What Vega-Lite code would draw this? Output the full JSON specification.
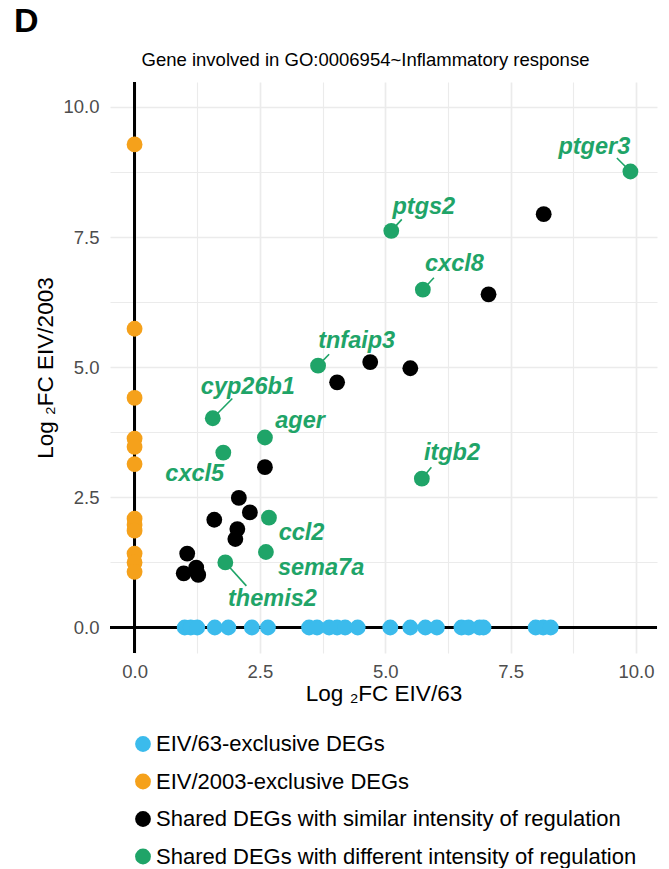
{
  "$schema": "https://vega.github.io/schema/vega-lite/v6.json",
  "autosize": {"type": "pad"},
  "padding": {"left": 13, "top": 5, "right": 0, "bottom": 0},
  "background": "white",
  "title": {"text": "D", "anchor": "start", "frame": "bounds", "font": "Liberation Sans", "fontSize": 34, "fontWeight": "bold", "color": "#000000", "dx": -21, "offset": 12},
  "datasets": {
    "genes": [
      {"gene": "", "group": "EIV/63-exclusive DEGs", "x": 1.0, "y": 0},
      {"gene": "", "group": "EIV/63-exclusive DEGs", "x": 1.12, "y": 0},
      {"gene": "", "group": "EIV/63-exclusive DEGs", "x": 1.25, "y": 0},
      {"gene": "", "group": "EIV/63-exclusive DEGs", "x": 1.6, "y": 0},
      {"gene": "", "group": "EIV/63-exclusive DEGs", "x": 1.87, "y": 0},
      {"gene": "", "group": "EIV/63-exclusive DEGs", "x": 2.34, "y": 0},
      {"gene": "", "group": "EIV/63-exclusive DEGs", "x": 2.66, "y": 0},
      {"gene": "", "group": "EIV/63-exclusive DEGs", "x": 3.48, "y": 0},
      {"gene": "", "group": "EIV/63-exclusive DEGs", "x": 3.64, "y": 0},
      {"gene": "", "group": "EIV/63-exclusive DEGs", "x": 3.88, "y": 0},
      {"gene": "", "group": "EIV/63-exclusive DEGs", "x": 4.04, "y": 0},
      {"gene": "", "group": "EIV/63-exclusive DEGs", "x": 4.2, "y": 0},
      {"gene": "", "group": "EIV/63-exclusive DEGs", "x": 4.45, "y": 0},
      {"gene": "", "group": "EIV/63-exclusive DEGs", "x": 5.1, "y": 0},
      {"gene": "", "group": "EIV/63-exclusive DEGs", "x": 5.5, "y": 0},
      {"gene": "", "group": "EIV/63-exclusive DEGs", "x": 5.8, "y": 0},
      {"gene": "", "group": "EIV/63-exclusive DEGs", "x": 6.03, "y": 0},
      {"gene": "", "group": "EIV/63-exclusive DEGs", "x": 6.52, "y": 0},
      {"gene": "", "group": "EIV/63-exclusive DEGs", "x": 6.66, "y": 0},
      {"gene": "", "group": "EIV/63-exclusive DEGs", "x": 6.88, "y": 0},
      {"gene": "", "group": "EIV/63-exclusive DEGs", "x": 6.96, "y": 0},
      {"gene": "", "group": "EIV/63-exclusive DEGs", "x": 8.0, "y": 0},
      {"gene": "", "group": "EIV/63-exclusive DEGs", "x": 8.15, "y": 0},
      {"gene": "", "group": "EIV/63-exclusive DEGs", "x": 8.3, "y": 0},
      {"gene": "", "group": "EIV/2003-exclusive DEGs", "x": 0, "y": 9.28},
      {"gene": "", "group": "EIV/2003-exclusive DEGs", "x": 0, "y": 5.74},
      {"gene": "", "group": "EIV/2003-exclusive DEGs", "x": 0, "y": 4.41},
      {"gene": "", "group": "EIV/2003-exclusive DEGs", "x": 0, "y": 3.63},
      {"gene": "", "group": "EIV/2003-exclusive DEGs", "x": 0, "y": 3.47},
      {"gene": "", "group": "EIV/2003-exclusive DEGs", "x": 0, "y": 3.14},
      {"gene": "", "group": "EIV/2003-exclusive DEGs", "x": 0, "y": 2.09},
      {"gene": "", "group": "EIV/2003-exclusive DEGs", "x": 0, "y": 1.97},
      {"gene": "", "group": "EIV/2003-exclusive DEGs", "x": 0, "y": 1.86},
      {"gene": "", "group": "EIV/2003-exclusive DEGs", "x": 0, "y": 1.42},
      {"gene": "", "group": "EIV/2003-exclusive DEGs", "x": 0, "y": 1.25},
      {"gene": "", "group": "EIV/2003-exclusive DEGs", "x": 0, "y": 1.07},
      {"gene": "", "group": "Shared DEGs with similar intensity of regulation", "x": 8.16, "y": 7.94},
      {"gene": "", "group": "Shared DEGs with similar intensity of regulation", "x": 7.06, "y": 6.4},
      {"gene": "", "group": "Shared DEGs with similar intensity of regulation", "x": 4.7, "y": 5.1},
      {"gene": "", "group": "Shared DEGs with similar intensity of regulation", "x": 5.5, "y": 4.98},
      {"gene": "", "group": "Shared DEGs with similar intensity of regulation", "x": 4.04, "y": 4.71},
      {"gene": "", "group": "Shared DEGs with similar intensity of regulation", "x": 2.6, "y": 3.08},
      {"gene": "", "group": "Shared DEGs with similar intensity of regulation", "x": 2.08, "y": 2.49},
      {"gene": "", "group": "Shared DEGs with similar intensity of regulation", "x": 2.3, "y": 2.21},
      {"gene": "", "group": "Shared DEGs with similar intensity of regulation", "x": 1.59, "y": 2.07},
      {"gene": "", "group": "Shared DEGs with similar intensity of regulation", "x": 2.05, "y": 1.89},
      {"gene": "", "group": "Shared DEGs with similar intensity of regulation", "x": 2.01, "y": 1.7},
      {"gene": "", "group": "Shared DEGs with similar intensity of regulation", "x": 1.05, "y": 1.42},
      {"gene": "", "group": "Shared DEGs with similar intensity of regulation", "x": 0.98, "y": 1.04},
      {"gene": "", "group": "Shared DEGs with similar intensity of regulation", "x": 1.23, "y": 1.15},
      {"gene": "", "group": "Shared DEGs with similar intensity of regulation", "x": 1.27, "y": 1.01},
      {"gene": "ptger3", "group": "Shared DEGs with different intensity of regulation", "x": 9.89, "y": 8.76, "lx": 9.17, "ly": 9.23, "sx": 9.62, "sy": 9.02},
      {"gene": "ptgs2", "group": "Shared DEGs with different intensity of regulation", "x": 5.12, "y": 7.62, "lx": 5.77, "ly": 8.08, "sx": 5.33, "sy": 7.84},
      {"gene": "cxcl8", "group": "Shared DEGs with different intensity of regulation", "x": 5.75, "y": 6.49, "lx": 6.38, "ly": 6.99, "sx": 5.97, "sy": 6.72},
      {"gene": "tnfaip3", "group": "Shared DEGs with different intensity of regulation", "x": 3.66, "y": 5.03, "lx": 4.43, "ly": 5.51, "sx": 3.88, "sy": 5.25},
      {"gene": "cyp26b1", "group": "Shared DEGs with different intensity of regulation", "x": 1.56, "y": 4.02, "lx": 2.26, "ly": 4.62, "sx": 1.95, "sy": 4.4},
      {"gene": "ager", "group": "Shared DEGs with different intensity of regulation", "x": 2.6, "y": 3.65, "lx": 3.3, "ly": 3.97},
      {"gene": "cxcl5", "group": "Shared DEGs with different intensity of regulation", "x": 1.77, "y": 3.36, "lx": 1.2, "ly": 2.95},
      {"gene": "itgb2", "group": "Shared DEGs with different intensity of regulation", "x": 5.73, "y": 2.86, "lx": 6.33, "ly": 3.35, "sx": 5.92, "sy": 3.08},
      {"gene": "ccl2", "group": "Shared DEGs with different intensity of regulation", "x": 2.68, "y": 2.11, "lx": 3.33, "ly": 1.81},
      {"gene": "sema7a", "group": "Shared DEGs with different intensity of regulation", "x": 2.62, "y": 1.45, "lx": 3.72, "ly": 1.15},
      {"gene": "themis2", "group": "Shared DEGs with different intensity of regulation", "x": 1.81, "y": 1.25, "lx": 2.75, "ly": 0.54, "sx": 2.23, "sy": 0.8}
    ]
  },
  "vconcat": [
    {
      "title": {"text": "Gene involved in GO:0006954~Inflammatory response", "anchor": "middle", "frame": "group", "font": "Liberation Sans", "fontSize": 18.5, "fontWeight": "normal", "color": "#000000", "dx": -18, "offset": 11},
      "width": 547,
      "height": 571,
      "data": {"name": "genes"},
      "layer": [
        {
          "mark": {"type": "rule", "color": "#000000", "strokeWidth": 2.2},
          "encoding": {"x": {"datum": 0, "type": "quantitative"}}
        },
        {
          "mark": {"type": "rule", "color": "#000000", "strokeWidth": 2.2},
          "encoding": {"y": {"datum": 0, "type": "quantitative"}}
        },
        {
          "transform": [{"filter": "isValid(datum.sx)"}],
          "mark": {"type": "rule", "color": "#1fa468", "strokeWidth": 1.6},
          "encoding": {
            "x": {"field": "x", "type": "quantitative", "title": "Log ₂FC EIV/63"},
            "y": {"field": "y", "type": "quantitative", "title": "Log ₂FC EIV/2003"},
            "x2": {"field": "sx"},
            "y2": {"field": "sy"}
          }
        },
        {
          "mark": {"type": "point", "filled": true, "opacity": 1, "size": 250, "shape": "circle"},
          "encoding": {
            "x": {
              "field": "x", "type": "quantitative", "title": "Log ₂FC EIV/63",
              "scale": {"domain": [-0.49, 10.42], "nice": false, "zero": false},
              "axis": {
                "values": [0, 1.25, 2.5, 3.75, 5, 6.25, 7.5, 8.75, 10],
                "labelExpr": "datum.value % 2.5 === 0 ? format(datum.value, '.1f') : ''",
                "gridWidth": {"condition": {"test": "datum.value % 2.5 === 0", "value": 1.7}, "value": 1.1},
                "labelPadding": 9,
                "titlePadding": 2
              }
            },
            "y": {
              "field": "y", "type": "quantitative", "title": "Log ₂FC EIV/2003",
              "scale": {"domain": [-0.49, 10.48], "nice": false, "zero": false},
              "axis": {
                "values": [0, 1.25, 2.5, 3.75, 5, 6.25, 7.5, 8.75, 10],
                "labelExpr": "datum.value % 2.5 === 0 ? format(datum.value, '.1f') : ''",
                "gridWidth": {"condition": {"test": "datum.value % 2.5 === 0", "value": 1.7}, "value": 1.1},
                "labelPadding": 11,
                "titlePadding": 5
              }
            },
            "color": {
              "field": "group", "type": "nominal",
              "scale": {
                "domain": ["EIV/63-exclusive DEGs", "EIV/2003-exclusive DEGs", "Shared DEGs with similar intensity of regulation", "Shared DEGs with different intensity of regulation"],
                "range": ["#3bbbec", "#f5a11b", "#000000", "#1fa468"]
              },
              "legend": {
                "orient": "none", "legendX": 22, "legendY": 651, "title": null,
                "symbolType": "circle", "symbolSize": 250, "symbolStrokeWidth": 0,
                "labelFont": "Liberation Sans", "labelFontSize": 22, "labelColor": "#000000",
                "labelLimit": 700, "rowPadding": 15.5, "labelOffset": 2
              }
            }
          }
        },
        {
          "transform": [{"filter": "datum.gene !== ''"}],
          "mark": {"type": "text", "font": "Liberation Sans", "fontSize": 23.5, "fontWeight": "bold", "fontStyle": "italic", "color": "#1fa468", "align": "center", "baseline": "middle"},
          "encoding": {
            "x": {"field": "lx", "type": "quantitative", "title": "Log ₂FC EIV/63"},
            "y": {"field": "ly", "type": "quantitative", "title": "Log ₂FC EIV/2003"},
            "text": {"field": "gene"}
          }
        }
      ]
    }
  ],
  "config": {
    "view": {"stroke": null},
    "axis": {
      "grid": true, "gridColor": "#ebebeb", "domain": false, "ticks": false,
      "labelFont": "Liberation Sans", "labelFontSize": 18.5, "labelColor": "#4d4d4d",
      "titleFont": "Liberation Sans", "titleFontSize": 22.5, "titleFontWeight": "normal", "titleColor": "#000000"
    }
  }
}
